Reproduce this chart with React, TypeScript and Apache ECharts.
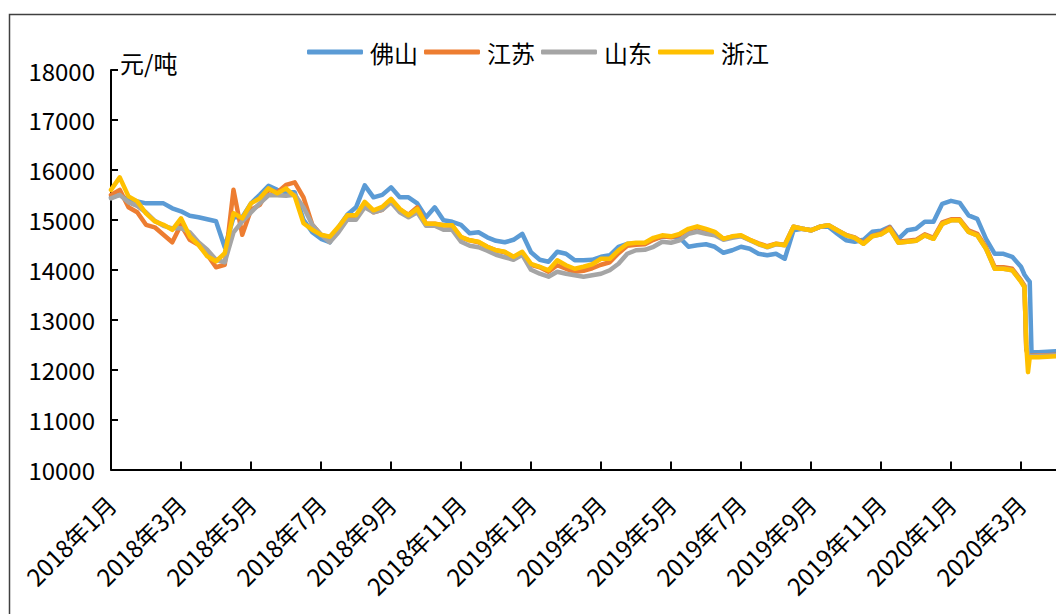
import React, { useEffect, useRef } from "react";
import * as echarts from "echarts";

// x positions in months since 2018年1月 (0 = 2018-01-01)
const xMonths = [
  0, 0.25, 0.5, 0.75, 1, 1.25, 1.5, 1.75, 2, 2.25, 2.5, 2.75, 3, 3.25, 3.5, 3.75,
  4, 4.25, 4.5, 4.75, 5, 5.25, 5.5, 5.75, 6, 6.25, 6.5, 6.75, 7, 7.25, 7.5, 7.75,
  8, 8.25, 8.5, 8.75, 9, 9.25, 9.5, 9.75, 10, 10.25, 10.5, 10.75, 11, 11.25, 11.5, 11.75,
  12, 12.25, 12.5, 12.75, 13, 13.25, 13.5, 13.75, 14, 14.25, 14.5, 14.75, 15, 15.25, 15.5, 15.75,
  16, 16.25, 16.5, 16.75, 17, 17.25, 17.5, 17.75, 18, 18.25, 18.5, 18.75, 19, 19.25, 19.5, 19.75,
  20, 20.25, 20.5, 20.75, 21, 21.25, 21.5, 21.75, 22, 22.25, 22.5, 22.75, 23, 23.25, 23.5, 23.75,
  24, 24.25, 24.5, 24.75, 25, 25.25, 25.5, 25.75, 26,
  26.1, 26.15, 26.2, 26.25, 26.3, 26.5, 26.75, 27,
];

const foshan = [
  15450, 15500, 15400, 15370, 15330, 15330, 15330, 15230, 15170, 15080, 15050, 15010, 14970, 14450, 15050, 15050,
  15330, 15500, 15680, 15600, 15550, 15550, 15000, 14750, 14620, 14550, 14850, 15100, 15250, 15690, 15450, 15500,
  15650, 15450, 15450, 15330, 15050, 15250, 14990, 14960, 14900, 14730, 14750, 14650, 14580, 14550, 14600, 14720,
  14350, 14200, 14160, 14360, 14320, 14190, 14190, 14200, 14260, 14290, 14460, 14520, 14520, 14520, 14620, 14660,
  14660, 14640, 14460, 14490, 14510, 14460, 14340, 14390, 14460, 14420, 14320, 14290, 14320, 14220, 14790, 14820,
  14790, 14860, 14860, 14720, 14590, 14560, 14600, 14760, 14780, 14860, 14620, 14790, 14820, 14960, 14960, 15320,
  15380, 15340, 15090, 15020, 14620, 14320, 14320, 14260, 14060,
  13900, 13850, 13800, 13760, 12350, 12350, 12360, 12370,
];

const jiangsu = [
  15500, 15600, 15250, 15150, 14900, 14850, 14700, 14550, 14900, 14600, 14500, 14300, 14050, 14100, 15600, 14700,
  15200, 15300, 15600, 15550, 15700, 15750, 15450, 14900, 14700, 14650, 14800, 15050, 15050, 15300, 15150, 15200,
  15400, 15200, 15100, 15250, 14920, 14920, 14890, 14880, 14650, 14590, 14550, 14460, 14390, 14350, 14250, 14330,
  14100, 14050, 13960, 14090, 14020, 13960, 13980, 14030, 14100, 14150, 14330, 14480, 14500, 14510, 14600, 14670,
  14650, 14700, 14800, 14850, 14800, 14740, 14620, 14660, 14680, 14600, 14530, 14470, 14520, 14500, 14860, 14820,
  14790, 14860, 14890, 14790, 14700, 14650, 14540, 14680, 14730, 14850, 14560, 14580, 14600, 14710, 14640, 14950,
  15010, 15010, 14790, 14720, 14450, 14050, 14050, 14020, 13790,
  13680, 12400, 12300, 12280, 12280, 12290, 12290, 12300,
];

const shandong = [
  15430, 15500, 15350, 15280, 15150, 14980, 14880, 14830, 14830, 14750, 14550, 14400, 14200, 14150, 14750, 14970,
  15150, 15330, 15490, 15490, 15480, 15500, 15250, 14900, 14700, 14550, 14750, 15000, 15000, 15250, 15150, 15200,
  15350, 15150, 15050, 15150, 14880, 14880, 14800, 14800, 14560, 14480, 14450, 14380, 14300, 14250, 14200, 14300,
  14000, 13920, 13860, 13960, 13920, 13890, 13860, 13890, 13920, 13990, 14120, 14320, 14390, 14400, 14460, 14560,
  14540, 14590, 14720, 14760, 14720, 14690, 14600, 14640, 14670, 14590, 14510, 14450, 14510, 14490, 14860, 14820,
  14790, 14860, 14890, 14790, 14690, 14640, 14520, 14670, 14710, 14820, 14540, 14560, 14580, 14690, 14620, 14920,
  14990, 14990, 14760, 14690, 14420, 14020, 14020, 13990, 13770,
  13660, 12450, 12300, 12270, 12270, 12280, 12280, 12290,
];

const zhejiang = [
  15600, 15850, 15470, 15370, 15130, 14970, 14900, 14800, 15030, 14670, 14500, 14270, 14170, 14330, 15130, 15030,
  15330, 15430, 15630, 15530, 15630, 15470, 14930, 14800, 14700, 14660, 14860, 15090, 15090, 15360, 15190, 15260,
  15420, 15220, 15090, 15220, 14920, 14920, 14890, 14890, 14660, 14590, 14560, 14460, 14390, 14360, 14260, 14360,
  14120, 14060, 13990, 14190, 14090, 14020, 14060, 14110, 14220, 14220, 14390, 14520, 14540, 14540, 14640, 14690,
  14670, 14720, 14820, 14870, 14820, 14760, 14620, 14670, 14690, 14600, 14520, 14460, 14520, 14490, 14860, 14820,
  14790, 14860, 14890, 14790, 14690, 14640, 14520, 14670, 14710, 14820, 14540, 14560, 14580, 14690, 14620, 14920,
  14990, 14990, 14760, 14690, 14420, 14020, 14020, 13990, 13760,
  13650, 12500, 11950, 12250, 12250, 12250, 12260, 12270,
];

const seriesNames = ["佛山", "江苏", "山东", "浙江"];
const seriesColors = ["#5B9BD5", "#ED7D31", "#A5A5A5", "#FFC000"];
const tickLabels = [
  "2018年1月", "2018年3月", "2018年5月", "2018年7月", "2018年9月", "2018年11月",
  "2019年1月", "2019年3月", "2019年5月", "2019年7月", "2019年9月", "2019年11月",
  "2020年1月", "2020年3月",
];
const unitLabel = "元/吨";

const FONT = '"Noto Sans CJK SC", "Noto Sans", sans-serif';

export default function App() {
  const ref = useRef<HTMLDivElement>(null);
  useEffect(() => {
    if (!ref.current) return;
    const chart = echarts.init(ref.current, null, { renderer: "svg" });
    const all = [foshan, jiangsu, shandong, zhejiang];
    chart.setOption({
      animation: false,
      backgroundColor: "#ffffff",
      textStyle: { fontFamily: FONT },
      grid: { left: 111, right: 9, top: 70, bottom: 144.5, containLabel: false },
      legend: {
        data: seriesNames,
        left: 307,
        top: 40,
        padding: 0,
        icon: "roundRect",
        itemWidth: 56,
        itemHeight: 5,
        itemGap: 6,
        textStyle: { fontSize: 24, color: "#000", fontFamily: FONT, padding: [0, 0, 0, 2] },
      },
      xAxis: {
        type: "value",
        min: 0,
        max: 28,
        interval: 2,
        splitLine: { show: false },
        axisLine: { lineStyle: { color: "#000", width: 2 } },
        axisTick: { inside: true, length: 8, lineStyle: { color: "#000", width: 2 } },
        axisLabel: {
          rotate: 45,
          margin: 30,
          fontSize: 24,
          color: "#000",
          fontFamily: FONT,
          formatter: (v: number) => {
            const i = Math.round(v / 2);
            return Math.abs(v - i * 2) < 1e-6 && i < tickLabels.length ? tickLabels[i] : "";
          },
        },
      },
      yAxis: {
        type: "value",
        min: 10000,
        max: 18000,
        interval: 1000,
        splitLine: { show: false },
        axisLine: { show: true, lineStyle: { color: "#000", width: 2 } },
        axisTick: { show: true, inside: true, length: 7, lineStyle: { color: "#000", width: 2 } },
        axisLabel: {
          fontSize: 24,
          color: "#000",
          margin: 16,
          fontFamily: FONT,
          formatter: (v: number) => String(v),
        },
      },
      graphic: [
        {
          type: "rect",
          silent: true,
          z: -10,
          shape: { x: 9.5, y: 14.5, width: 1200, height: 800 },
          style: { fill: "none", stroke: "#404040", lineWidth: 1.5 },
        },
        {
          type: "text",
          silent: true,
          x: 120,
          y: 62,
          style: { text: unitLabel, fontSize: 24, fill: "#000", fontFamily: FONT, verticalAlign: "middle", align: "left" },
        },
      ],
      series: seriesNames.map((name, si) => ({
        name,
        type: "line",
        data: xMonths.map((m, i) => [m, all[si][i]]),
        showSymbol: false,
        symbol: "none",
        lineStyle: { width: 4.5, color: seriesColors[si], cap: "round", join: "round" },
        itemStyle: { color: seriesColors[si] },
      })),
    });
    return () => chart.dispose();
  }, []);
  return <div ref={ref} style={{ position: "fixed", left: 0, top: 0, width: 1100, height: 614 }} />;
}
